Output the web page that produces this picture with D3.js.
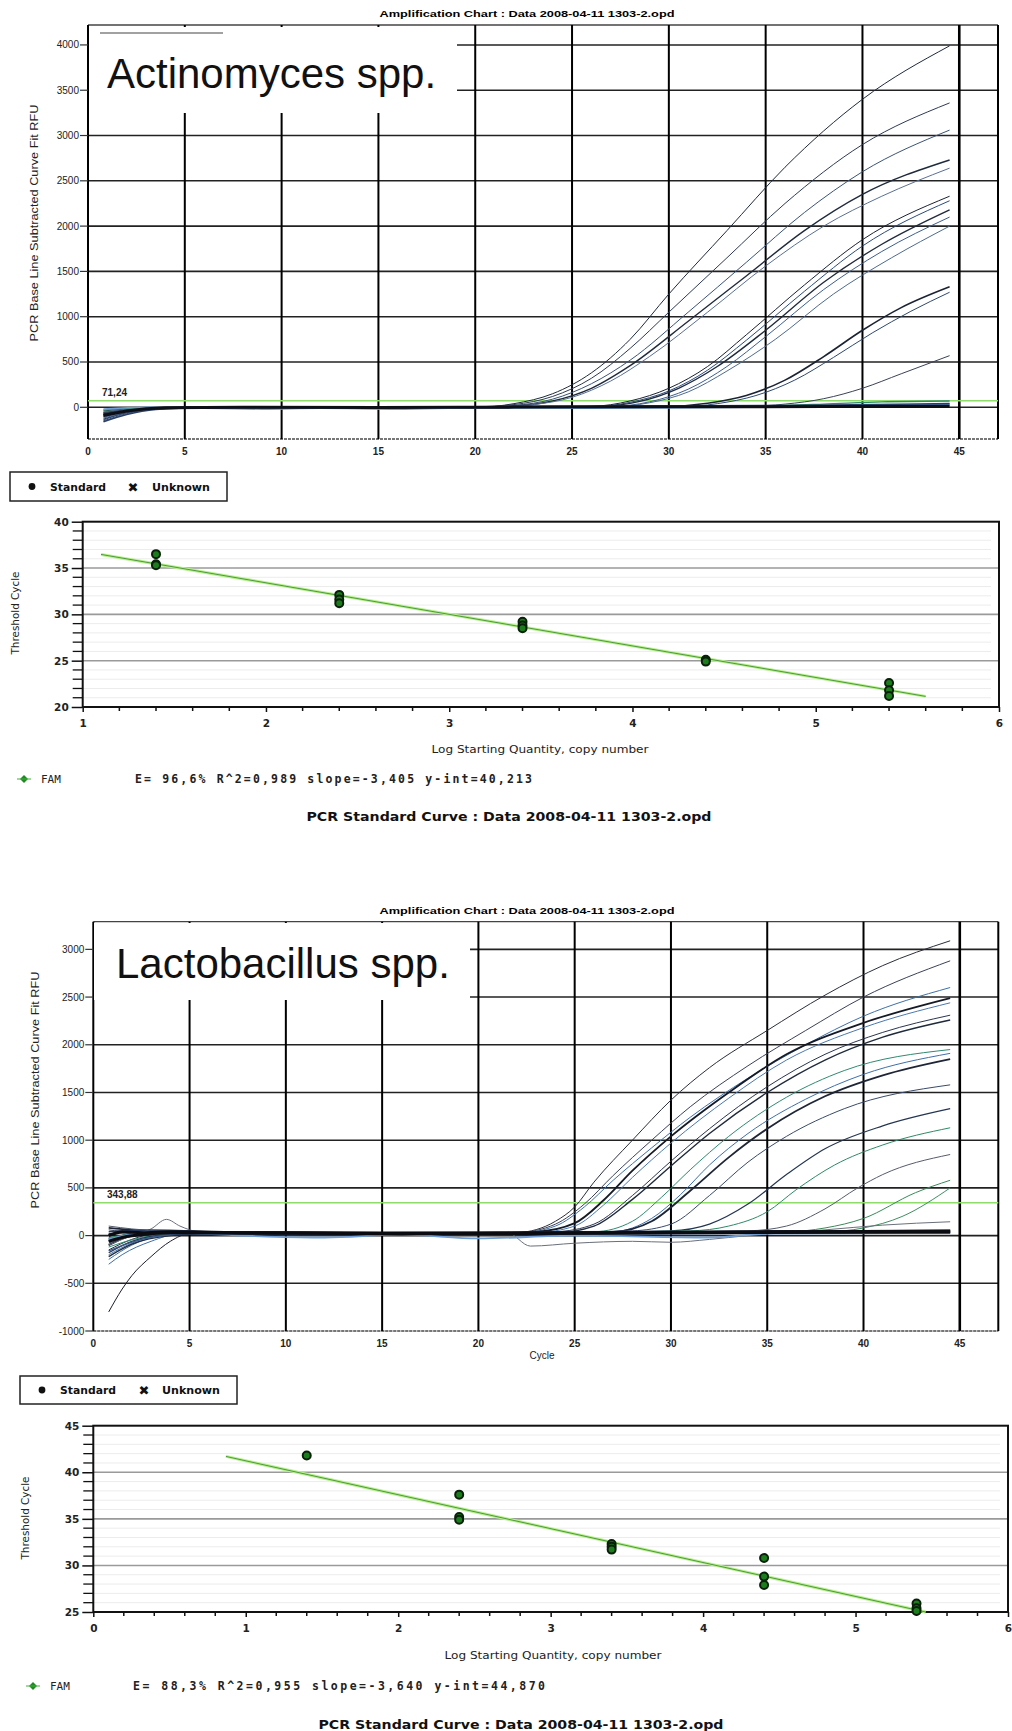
<!DOCTYPE html>
<html><head><meta charset="utf-8">
<script src="https://cdnjs.cloudflare.com/ajax/libs/d3/7.8.5/d3.min.js"></script>
<style>body{margin:0;background:#fff}svg{display:block}</style>
</head><body>
<svg id="c" width="1012" height="1731"></svg>
<script>
// ---------------- DATA ----------------
const ampTitle = "Amplification Chart : Data 2008-04-11 1303-2.opd";
const stdTitle = "PCR Standard Curve  : Data 2008-04-11 1303-2.opd";
const ampYLabel = "PCR Base Line Subtracted Curve Fit RFU";
const cycleTicks = [0,5,10,15,20,25,30,35,40,45];
const actinoYTicks = [0,500,1000,1500,2000,2500,3000,3500,4000];
const lactoYTicks = [-1000,-500,0,500,1000,1500,2000,2500,3000];
const actinoThreshold = 71.24, actinoThresholdLabel = "71,24";
const lactoThreshold = 343.88, lactoThresholdLabel = "343,88";

// amplification curves, Actinomyces: [cycle, RFU]
const actinoCurves = [
 [[0.8,-130],[2,-60],[3.5,-15],[6,0],[11,-10],[16,5],[20,0],[22,40],[24,150],[26,380],[28,750],[30,1250],[33,1950],[36,2650],[40,3400],[44.5,3990]],
 [[0.8,-90],[2,-40],[4,-5],[8,0],[14,-10],[20,5],[22,30],[24,120],[26,320],[28,650],[30,1050],[33,1650],[36,2250],[40,2900],[44.5,3360]],
 [[0.8,-150],[2,-70],[3.5,-20],[7,0],[13,5],[20,0],[22,20],[24,90],[26,260],[28,520],[31,1050],[34,1600],[37,2150],[40,2600],[44.5,3060]],
 [[0.8,-60],[2.5,-20],[5,0],[12,-5],[20,5],[22,15],[24,70],[26,210],[28,460],[31,950],[34,1450],[37,1950],[40,2350],[44.5,2730]],
 [[0.8,-110],[2,-50],[4,-10],[9,5],[16,-5],[21,5],[23,30],[25,110],[27,290],[29,560],[32,1050],[35,1560],[38,2000],[41,2330],[44.5,2640]],
 [[0.8,-40],[3,-10],[8,0],[15,5],[22,0],[26,10],[28,70],[30,210],[32,450],[34,800],[37,1350],[40,1850],[44.5,2330]],
 [[0.8,-100],[2,-45],[4,-10],[10,0],[18,-5],[26,5],[28,55],[30,180],[32,410],[34,740],[37,1280],[40,1780],[44.5,2280]],
 [[0.8,-70],[2.5,-25],[6,0],[14,-10],[22,0],[26.5,10],[28.5,65],[30.5,210],[32.5,450],[35,850],[38,1380],[41,1800],[44.5,2180]],
 [[0.8,-120],[2,-55],[4,-10],[11,-5],[19,5],[27,10],[29,60],[31,200],[33,450],[35,780],[38,1300],[41,1720],[44.5,2100]],
 [[0.8,-50],[3,-10],[9,5],[17,0],[27,5],[29,50],[31,170],[33,400],[35.5,750],[38.5,1250],[41.5,1650],[44.5,2000]],
 [[0.8,-80],[2.5,-30],[6,0],[15,-5],[25,0],[30,10],[32,45],[34,130],[36,300],[38,560],[40,850],[42,1100],[44.5,1330]],
 [[0.8,-140],[2,-60],[4,-15],[10,0],[20,-5],[30.5,5],[32.5,40],[34.5,130],[36.5,300],[38.5,550],[40.5,820],[42.5,1060],[44.5,1270]],
 [[0.8,-60],[3,-15],[8,0],[20,-5],[30,0],[34,10],[36,35],[38,95],[40,210],[42,370],[44.5,570]],
 [[0.8,-30],[3,-5],[10,-5],[20,0],[30,5],[35,15],[38,35],[41,60],[44.5,70]],
 [[0.8,-100],[2,-40],[5,-10],[12,5],[24,0],[32,10],[40,20],[44.5,35]],
 [[0.8,-20],[3,0],[9,-20],[12,-10],[16,-20],[20,-5],[26,-10],[34,0],[44.5,15]],
 [[0.8,-160],[2,-80],[3.5,-25],[6,-5],[14,0],[24,10],[36,20],[44.5,40]],
 [[0.8,-90],[2,-40],[4,-5],[8,0],[15,-3],[22,2],[30,5],[38,8],[44.5,10]]
];
const actinoColors = ["#1f2a3c","#2e3a55","#3a5378","#1f2a3c","#5a6f95","#1a2233","#2b4a7a","#1f2a3c","#3d5e8f","#4e6a90","#1a2233","#2e4870","#3a4256","#2f8a66","#4f82c0","#6f9fd6","#2b3f66","#0c0f16"];
const actinoWidths = [1,1,1,1.4,1,1,1,1.4,1,1,1.6,1,1,1.4,1.6,1.6,1.6,3];

// amplification curves, Lactobacillus: [cycle, RFU]
const lactoCurves = [
 [[0.8,-150],[2,-40],[3.5,30],[6,40],[10,20],[15,30],[20,20],[22,30],[24,150],[25,300],[26,560],[28,1000],[30,1420],[32,1760],[35,2150],[38,2520],[41,2830],[44.5,3090]],
 [[0.8,60],[2,40],[4,50],[8,30],[14,20],[20,25],[22,30],[24,120],[25.5,330],[27,630],[29,1000],[31,1350],[34,1780],[37,2150],[40,2500],[44.5,2880]],
 [[0.8,-250],[2,-100],[3.5,0],[6,40],[12,20],[18,30],[22,25],[24,100],[25.5,300],[27,580],[29,920],[31,1240],[34,1650],[37,2000],[40,2300],[44.5,2600]],
 [[0.8,-100],[2,0],[4,40],[9,30],[16,20],[21,30],[23,40],[25,130],[26.5,370],[28,680],[30,1040],[33,1500],[36,1900],[40,2230],[44.5,2490]],
 [[0.8,-200],[2,-80],[4,20],[10,10],[17,30],[21,20],[23,30],[25,100],[26.5,320],[28,610],[30,970],[33,1440],[36,1840],[40,2180],[44.5,2440]],
 [[0.8,20],[3,40],[7,30],[14,20],[20,20],[24,40],[26,120],[28,420],[30,780],[32,1120],[35,1560],[38,1900],[41,2130],[44.5,2310]],
 [[0.8,-50],[2,20],[5,30],[12,20],[20,30],[24,30],[26,100],[28,380],[30,730],[32,1070],[35,1500],[38,1840],[41,2080],[44.5,2260]],
 [[0.8,-120],[2.5,-20],[5,30],[13,20],[20,30],[26,40],[28,150],[29.5,400],[31,690],[33,1040],[36,1450],[39,1730],[44.5,1950]],
 [[0.8,-300],[1.5,-200],[3,-60],[4.5,20],[10,30],[20,20],[27,40],[29,180],[30.5,430],[32,740],[34,1070],[37,1430],[40,1690],[44.5,1910]],
 [[0.8,80],[2,60],[4,40],[11,30],[20,20],[27,40],[29,150],[31,470],[33,820],[35,1120],[38,1460],[41,1680],[44.5,1850]],
 [[0.8,-80],[2,-10],[5,30],[15,20],[22,30],[28,50],[30,120],[32,420],[34,770],[36,1040],[39,1330],[44.5,1580]],
 [[0.8,-180],[2,-60],[4,10],[12,20],[22,30],[30,50],[32,120],[34,330],[36,640],[38,910],[41,1150],[44.5,1330]],
 [[0.8,-20],[3,30],[10,20],[22,30],[31,50],[33,100],[35,250],[36.5,480],[38.5,740],[41,950],[44.5,1130]],
 [[0.8,100],[2,70],[5,40],[15,20],[25,30],[34,50],[36,100],[38,280],[39.7,500],[41,640],[44.5,850]],
 [[0.8,-60],[3,20],[10,30],[25,30],[36,40],[38,80],[40,180],[42.7,450],[44.5,580]],
 [[0.8,-30],[3,30],[12,20],[28,30],[38,40],[40,80],[42,200],[44.5,500]],
 [[0.8,-100],[2,0],[3,70],[3.8,170],[4.5,100],[5.5,40],[12,20],[20,30],[30,40],[40,50],[44.5,60]],
 [[0.8,-800],[1.5,-560],[2,-420],[3,-220],[4,-60],[5,20],[10,30],[20,20],[30,30],[44.5,40]],
 [[0.8,-30],[3,20],[10,10],[20,20],[21.5,30],[22.7,-110],[25,-80],[28,-60],[30,-70],[32,-40],[34,0],[38,60],[41,110],[44.5,145]],
 [[0.8,-220],[2,-90],[4,0],[8,40],[15,30],[25,40],[35,50],[44.5,55]],
 [[0.8,40],[3,60],[9,20],[20,10],[30,30],[44.5,40]],
 [[0.8,-40],[3,40],[9,-10],[12,-20],[16,10],[20,-30],[25,0],[32,-20],[35,20],[44.5,30]],
 [[0.8,-160],[2.5,-40],[5,20],[15,10],[30,20],[44.5,30]],
 [[0.8,0],[1.5,40],[2.5,30],[4,40],[8,30],[15,25],[22,25],[30,30],[38,35],[44.5,40]],
 [[0.8,-60],[1.5,-20],[2.5,10],[4,30],[9,25],[16,20],[24,25],[32,35],[44.5,45]]
];
const lactoColors = ["#2a2f3a","#3a4258","#3f6fa8","#141a26","#4a78b0","#2b3550","#1f2a3c","#2f8a70","#3f6fa8","#1d2536","#3a4a6a","#243552","#2f8a66","#555c6c","#3a8a5a","#3f8f60","#6a7080","#1a1f2a","#6a6f7a","#1f2a3c","#2b3f66","#6f9fd6","#3a5a8a","#0a0c12","#0a0c12"];
const lactoWidths = [1,1,1,1.8,1,1,1.4,1,1,1.8,1,1.2,1,1,1,1,1,1,1,1.4,1.4,1.8,1.4,3.2,3];

// standard curves
const stdXTicks1 = [1,2,3,4,5,6];
const stdYTicks1 = [20,25,30,35,40];
const actinoStdX = [1.4,1.4,1.4,2.4,2.4,2.4,3.4,3.4,3.4,4.4,4.4,5.4,5.4,5.4];
const actinoStdCt = [36.5,35.4,35.3,32.1,31.6,31.2,29.2,28.8,28.5,25.1,24.9,22.6,21.8,21.2];
const actinoFit = {slope:-3.405, intercept:40.213, from:1.1, to:5.6};
const actinoStats = "E= 96,6% R^2=0,989 slope=-3,405 y-int=40,213";

const stdXTicks2 = [0,1,2,3,4,5,6];
const stdYTicks2 = [25,30,35,40,45];
const lactoStdX = [1.4,2.4,2.4,2.4,3.4,3.4,3.4,4.4,4.4,4.4,5.4,5.4,5.4];
const lactoStdCt = [41.8,37.6,35.2,34.9,32.3,32.0,31.7,30.8,28.8,27.9,25.9,25.4,25.1];
const lactoFit = {slope:-3.640, intercept:44.870, from:0.87, to:5.46};
const lactoStats = "E= 88,3% R^2=0,955 slope=-3,640 y-int=44,870";

const legendItems = ["Standard","Unknown"];

// ---------------- DRAW ----------------
const svg = d3.select("#c");
const ARIAL = "'Liberation Sans', Arial, sans-serif";
const DJV = "'DejaVu Sans', Verdana, sans-serif";

function ampChart(o){
  const g = svg.append("g");
  const x = d3.scaleLinear().domain(o.xd).range(o.xr);
  const y = d3.scaleLinear().domain(o.yd).range(o.yr);
  g.append("text").attr("x",o.titleX).attr("y",o.titleY).attr("text-anchor","middle")
    .attr("font-family",ARIAL).attr("font-size",9).attr("font-weight","bold")
    .attr("textLength",295).attr("lengthAdjust","spacingAndGlyphs").text(ampTitle);
  g.append("line").attr("x1",o.xr[0]).attr("x2",o.xr[1]).attr("y1",o.yr[1]).attr("y2",o.yr[1]).attr("stroke","#444").attr("stroke-width",1.3);
  g.selectAll(".hg").data(o.yticks).join("line")
    .attr("x1",o.xr[0]).attr("x2",o.xr[1]).attr("y1",d=>y(d)).attr("y2",d=>y(d))
    .attr("stroke",d=>d===o.yd[0]?"#888":"#222").attr("stroke-width",1.6)
    .attr("stroke-dasharray",d=>d===o.yd[0]?"3,1":null);
  g.append("line").attr("x1",o.xr[0]).attr("x2",o.xr[1]).attr("y1",o.yr[0]).attr("y2",o.yr[0]).attr("stroke","#777").attr("stroke-width",2).attr("stroke-dasharray","3,1");
  g.selectAll(".vg").data(o.xticks).join("line")
    .attr("x1",d=>x(d)).attr("x2",d=>x(d)).attr("y1",o.yr[0]).attr("y2",o.yr[1])
    .attr("stroke","#000").attr("stroke-width",d=>d===45?2.6:2);
  g.append("line").attr("x1",o.xr[1]).attr("x2",o.xr[1]).attr("y1",o.yr[0]).attr("y2",o.yr[1]).attr("stroke","#000").attr("stroke-width",2);
  g.append("rect").attr("x",o.box[0]).attr("y",o.box[1]).attr("width",o.box[2]).attr("height",o.box[3]).attr("fill","#fff");
  g.append("text").attr("x",o.labX).attr("y",o.labY).attr("font-family",ARIAL).attr("font-size",42)
    .attr("fill","#111").text(o.label);
  const yl = g.selectAll(".yt").data(o.yticks).join("g");
  yl.append("line").attr("x1",o.xr[0]-8).attr("x2",o.xr[0]).attr("y1",d=>y(d)).attr("y2",d=>y(d)).attr("stroke","#333").attr("stroke-width",1.2);
  yl.append("text").attr("x",o.xr[0]-9).attr("y",d=>y(d)+3.5).attr("text-anchor","end")
    .attr("font-family",ARIAL).attr("font-size",10).attr("fill","#222").text(d=>d);
  g.selectAll(".xt").data(o.xticks).join("text").attr("x",d=>x(d)).attr("y",o.xlabY)
    .attr("text-anchor","middle").attr("font-family",ARIAL).attr("font-size",10).attr("font-weight","bold").attr("fill","#222").text(d=>d);
  g.append("text").attr("transform",`translate(${o.ylabX},${o.ylabY}) rotate(-90)`).attr("text-anchor","middle")
    .attr("font-family",ARIAL).attr("font-size",11).attr("fill","#222")
    .attr("textLength",237).attr("lengthAdjust","spacingAndGlyphs").text(ampYLabel);
  g.append("line").attr("x1",o.xr[0]).attr("x2",o.xr[1]).attr("y1",y(o.thr)).attr("y2",y(o.thr)).attr("stroke","#8edc6a").attr("stroke-width",1.5);
  g.append("text").attr("x",o.thrLabX).attr("y",y(o.thr)-5).attr("font-family",ARIAL).attr("font-size",10).attr("font-weight","bold").attr("fill","#222").text(o.thrLab);
  const line = d3.line().x(d=>x(d[0])).y(d=>y(d[1])).curve(d3.curveMonotoneX);
  g.selectAll(".cv").data(o.curves).join("path").attr("d",line).attr("fill","none")
    .attr("stroke",(d,i)=>o.colors[i]).attr("stroke-width",(d,i)=>o.widths[i]);
  return {x,y};
}

ampChart({xd:[0,47],xr:[88,998],yd:[-350,4220],yr:[439,25],xticks:cycleTicks,yticks:actinoYTicks,
  titleX:527,titleY:17,box:[89,27,368,86],labX:107,labY:88,label:"Actinomyces spp.",
  xlabY:455,ylabX:38,ylabY:223,thr:actinoThreshold,thrLab:actinoThresholdLabel,thrLabX:102,
  curves:actinoCurves,colors:actinoColors,widths:actinoWidths});
svg.append("line").attr("x1",100).attr("x2",223).attr("y1",33).attr("y2",33).attr("stroke","#444").attr("stroke-width",1.2);

ampChart({xd:[0,47],xr:[93.3,998.3],yd:[-1000,3290],yr:[1331,921.7],xticks:cycleTicks,yticks:lactoYTicks,
  titleX:527,titleY:914,box:[94,923,376,77],labX:116,labY:978,label:"Lactobacillus spp.",
  xlabY:1347,ylabX:39,ylabY:1090,thr:lactoThreshold,thrLab:lactoThresholdLabel,thrLabX:107,
  curves:lactoCurves,colors:lactoColors,widths:lactoWidths});
svg.append("text").attr("x",542).attr("y",1359).attr("text-anchor","middle").attr("font-family",ARIAL).attr("font-size",10).attr("fill","#222").text("Cycle");

function legend(x0,y0,w,h,dotX,stdX,xX,unkX){
  const g = svg.append("g");
  g.append("rect").attr("x",x0).attr("y",y0).attr("width",w).attr("height",h).attr("fill","#fff").attr("stroke","#222").attr("stroke-width",1.5);
  const cy = y0+h/2;
  g.append("circle").attr("cx",dotX).attr("cy",cy).attr("r",3.4).attr("fill","#111");
  g.append("text").attr("x",stdX).attr("y",cy+4).attr("font-family",DJV).attr("font-size",11).attr("font-weight","bold").attr("fill","#111")
    .attr("textLength",56).attr("lengthAdjust","spacingAndGlyphs").text(legendItems[0]);
  g.append("text").attr("x",xX).attr("y",cy+5).attr("text-anchor","middle").attr("font-family",DJV).attr("font-size",13).attr("fill","#111").text("✖");
  g.append("text").attr("x",unkX).attr("y",cy+4).attr("font-family",DJV).attr("font-size",11).attr("font-weight","bold").attr("fill","#111")
    .attr("textLength",58).attr("lengthAdjust","spacingAndGlyphs").text(legendItems[1]);
}
legend(10,472,217,29,32,50,133,152);
legend(20,1376,217,28,42,60,144,162);

function stdChart(o){
  const g = svg.append("g");
  const x = d3.scaleLinear().domain(o.xd).range(o.xr);
  const y = d3.scaleLinear().domain(o.yd).range(o.yr);
  const minors = d3.range(o.yd[0]+1,o.yd[1],1).filter(v=>v%5!==0);
  g.selectAll(".mg").data(minors).join("line").attr("x1",o.xr[0]).attr("x2",o.xr[1]-8).attr("y1",d=>y(d)).attr("y2",d=>y(d)).attr("stroke","#ececec").attr("stroke-width",1);
  g.selectAll(".Mg").data(o.yticks.filter(v=>v>o.yd[0]&&v<o.yd[1])).join("line").attr("x1",o.xr[0]).attr("x2",o.xr[1]).attr("y1",d=>y(d)).attr("y2",d=>y(d)).attr("stroke","#9a9a9a").attr("stroke-width",1.6);
  g.append("rect").attr("x",o.xr[0]).attr("y",o.yr[1]).attr("width",o.xr[1]-o.xr[0]).attr("height",o.yr[0]-o.yr[1]).attr("fill","none").attr("stroke","#111").attr("stroke-width",2);
  const yAxis = d3.axisLeft(y).tickValues(o.yticks).tickSize(11).tickFormat(d=>d);
  const ya = g.append("g").attr("transform",`translate(${o.xr[0]},0)`).call(yAxis);
  ya.select(".domain").remove();
  ya.selectAll("text").attr("font-family",DJV).attr("font-size",10.5).attr("font-weight","bold").attr("fill","#222");
  ya.selectAll("line").attr("stroke","#111").attr("stroke-width",1.5);
  g.selectAll(".ymt").data(minors).join("line").attr("x1",o.xr[0]-10).attr("x2",o.xr[0]).attr("y1",d=>y(d)).attr("y2",d=>y(d)).attr("stroke","#111").attr("stroke-width",1.3);
  const xAxis = d3.axisBottom(x).tickValues(o.xticks).tickSize(5).tickPadding(8).tickFormat(d=>d);
  const xa = g.append("g").attr("transform",`translate(0,${o.yr[0]})`).call(xAxis);
  xa.select(".domain").remove();
  xa.selectAll("text").attr("font-family",DJV).attr("font-size",10.5).attr("font-weight","bold").attr("fill","#222");
  xa.selectAll("line").attr("stroke","#111").attr("stroke-width",1.5);
  const xminors = d3.range(o.xd[0]*5+1,o.xd[1]*5,1).filter(v=>v%5!==0).map(v=>v/5);
  g.selectAll(".xmt").data(xminors).join("line").attr("x1",d=>x(d)).attr("x2",d=>x(d)).attr("y1",o.yr[0]).attr("y2",o.yr[0]+4).attr("stroke","#111").attr("stroke-width",1.5);
  g.append("text").attr("x",o.xlab[0]).attr("y",o.xlab[1]).attr("text-anchor","middle").attr("font-family",DJV).attr("font-size",10.5)
    .attr("fill","#222").attr("textLength",217).attr("lengthAdjust","spacingAndGlyphs").text("Log Starting Quantity, copy number");
  g.append("text").attr("transform",`translate(${o.ylab[0]},${o.ylab[1]}) rotate(-90)`).attr("text-anchor","middle").attr("font-family",DJV).attr("font-size",10.5)
    .attr("fill","#222").attr("textLength",83).attr("lengthAdjust","spacingAndGlyphs").text("Threshold Cycle");
  const f = o.fit;
  const fl = [[f.from, f.intercept+f.slope*f.from],[f.to, f.intercept+f.slope*f.to]];
  g.append("line").attr("x1",x(fl[0][0])).attr("y1",y(fl[0][1])).attr("x2",x(fl[1][0])).attr("y2",y(fl[1][1])).attr("stroke","#b6f08e").attr("stroke-width",3);
  g.append("line").attr("x1",x(fl[0][0])).attr("y1",y(fl[0][1])).attr("x2",x(fl[1][0])).attr("y2",y(fl[1][1])).attr("stroke","#4f9a3a").attr("stroke-width",1);
  g.selectAll(".pt").data(o.xs).join("circle").attr("cx",d=>x(d)).attr("cy",(d,i)=>y(o.ys[i])).attr("r",4)
    .attr("fill","#1b7d1b").attr("stroke","#0a200a").attr("stroke-width",2);
  const fy = o.fam[1];
  g.append("path").attr("d",`M${o.fam[0]},${fy-4} L${o.fam[0]+4},${fy} L${o.fam[0]},${fy+4} L${o.fam[0]-4},${fy} Z`).attr("fill","#1f8a1f");
  g.append("line").attr("x1",o.fam[0]-7).attr("x2",o.fam[0]+7).attr("y1",fy).attr("y2",fy).attr("stroke","#3fae3f").attr("stroke-width",1);
  g.append("text").attr("x",o.fam[0]+17).attr("y",fy+4).attr("font-family","'DejaVu Sans Mono', monospace").attr("font-size",11).attr("fill","#222").text("FAM");
  g.append("text").attr("x",o.fam[2]).attr("y",fy+4).attr("font-family","'DejaVu Sans Mono', monospace").attr("font-size",11.5).attr("font-weight","bold").attr("fill","#222")
    .attr("textLength",o.fam[3]).attr("lengthAdjust","spacing").text(o.stats);
  g.append("text").attr("x",o.title[0]).attr("y",o.title[1]).attr("text-anchor","middle").attr("font-family",DJV).attr("font-size",12.5).attr("font-weight","bold")
    .attr("fill","#111").attr("textLength",405).attr("lengthAdjust","spacingAndGlyphs").text(stdTitle);
}

stdChart({xd:[1,6],xr:[82.7,999],yd:[20,40],yr:[707,521.7],xticks:stdXTicks1,yticks:stdYTicks1,
  xs:actinoStdX,ys:actinoStdCt,fit:actinoFit,stats:actinoStats,
  xlab:[540,753],ylab:[19,613],fam:[24,779,135,397],title:[509,821]});
stdChart({xd:[0,6],xr:[93.3,1008],yd:[25,45],yr:[1612,1425.7],xticks:stdXTicks2,yticks:stdYTicks2,
  xs:lactoStdX,ys:lactoStdCt,fit:lactoFit,stats:lactoStats,
  xlab:[553,1659],ylab:[29,1518],fam:[33,1686,133,412],title:[521,1729]});
</script>
</body></html>
